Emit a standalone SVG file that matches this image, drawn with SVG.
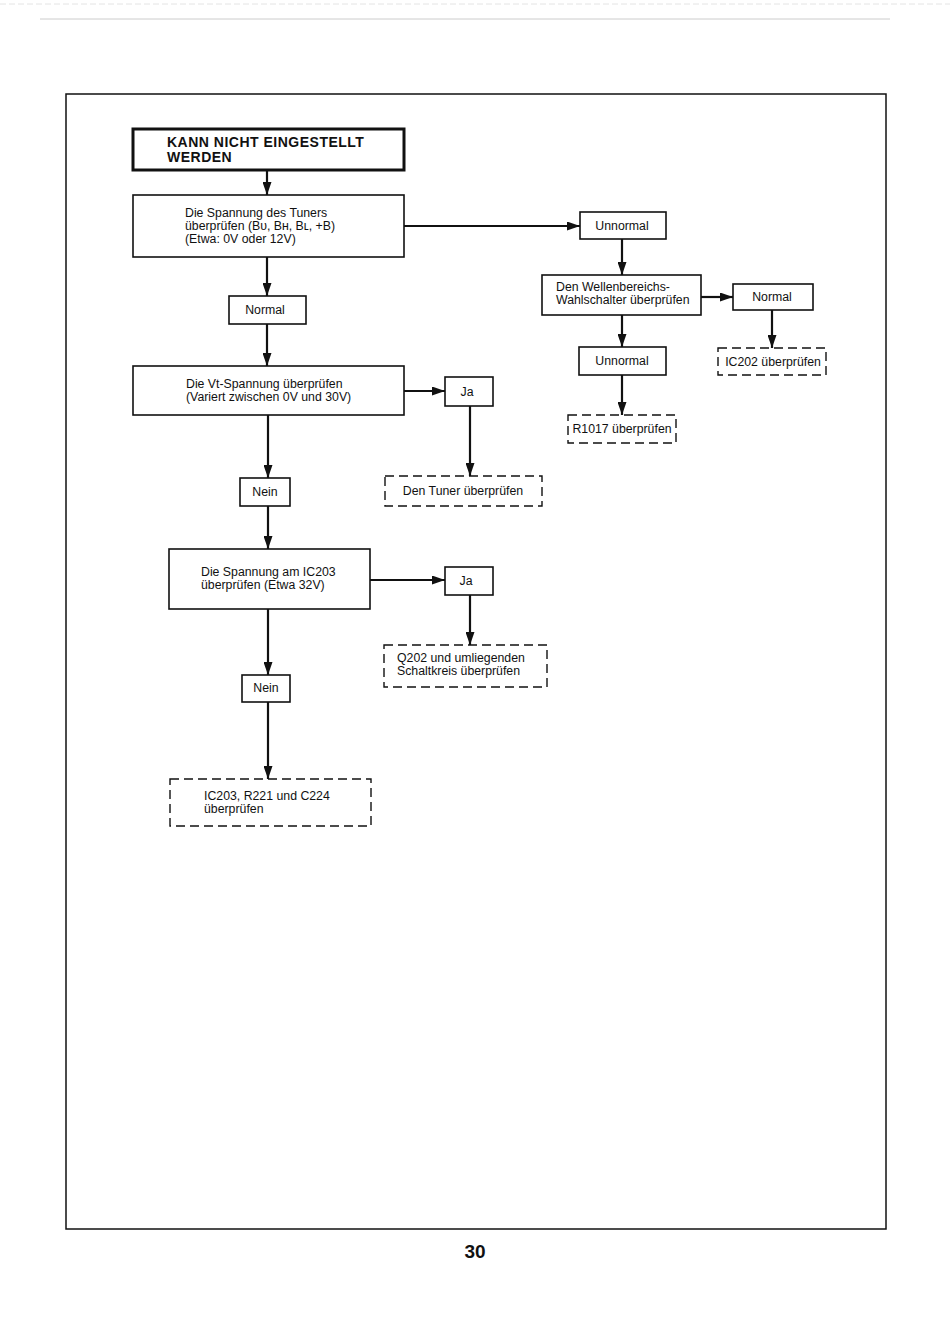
<svg xmlns="http://www.w3.org/2000/svg" width="950" height="1341" viewBox="0 0 950 1341">
<defs>
<marker id="ah" viewBox="0 0 13 9" refX="13" refY="4.5" markerWidth="13" markerHeight="9" markerUnits="userSpaceOnUse" orient="auto">
<path d="M0,0 L13,4.5 L0,9 Z" fill="#111"/>
</marker>
<style>
.box{fill:#fff;stroke:#111;stroke-width:1.6}
.dash{fill:#fff;stroke:#111;stroke-width:1.4;stroke-dasharray:9,5}
.t{font-family:"Liberation Sans",Arial,sans-serif;font-size:12.3px;fill:#111}
.c{text-anchor:middle}
.ttl{font-family:"Liberation Sans",Arial,sans-serif;font-size:14px;font-weight:bold;fill:#111;letter-spacing:0.5px}
.con line{stroke:#111;stroke-width:2.2;marker-end:url(#ah)}
</style>
</defs>
<rect width="950" height="1341" fill="#fff"/>
<line x1="40" y1="19" x2="890" y2="19" stroke="#ccc" stroke-width="1"/>
<line x1="0" y1="4" x2="950" y2="4" stroke="#e4e4e4" stroke-width="1" stroke-dasharray="6,3"/>
<rect x="66" y="94" width="820" height="1135" fill="none" stroke="#111" stroke-width="1.5"/>

<g id="title">
<rect x="133" y="129" width="271" height="41" fill="#fff" stroke="#111" stroke-width="3"/>
<text class="ttl" x="167" y="147">KANN NICHT EINGESTELLT</text>
<text class="ttl" x="167" y="162">WERDEN</text>
</g>
<g id="tuner">
<rect class="box" x="133" y="195" width="271" height="62"/>
<text class="t" x="185" y="217">Die Spannung des Tuners</text>
<text class="t" x="185" y="230">überprüfen (Bᴜ, Bʜ, Bʟ, +B)</text>
<text class="t" x="185" y="243">(Etwa: 0V oder 12V)</text>
</g>
<g id="unnormal1">
<rect class="box" x="580" y="212" width="86" height="27"/>
<text class="t c" x="622" y="230">Unnormal</text>
</g>
<g id="wellen">
<rect class="box" x="542" y="275" width="159" height="40"/>
<text class="t" x="556" y="291">Den Wellenbereichs-</text>
<text class="t" x="556" y="304">Wahlschalter überprüfen</text>
</g>
<g id="normal2">
<rect class="box" x="733" y="284" width="80" height="26"/>
<text class="t c" x="772" y="301">Normal</text>
</g>
<g id="ic202">
<rect class="dash" x="718" y="348" width="108" height="27"/>
<text class="t c" x="773" y="366">IC202 überprüfen</text>
</g>
<g id="unnormal2">
<rect class="box" x="579" y="347" width="87" height="28"/>
<text class="t c" x="622" y="365">Unnormal</text>
</g>
<g id="r1017">
<rect class="dash" x="568" y="415" width="108" height="28"/>
<text class="t c" x="622" y="433">R1017 überprüfen</text>
</g>
<g id="normal1">
<rect class="box" x="229" y="296" width="77" height="28"/>
<text class="t c" x="265" y="314">Normal</text>
</g>
<g id="vt">
<rect class="box" x="133" y="366" width="271" height="49"/>
<text class="t" x="186" y="388">Die Vt-Spannung überprüfen</text>
<text class="t" x="186" y="401">(Variert zwischen 0V und 30V)</text>
</g>
<g id="ja1">
<rect class="box" x="445" y="377" width="48" height="29"/>
<text class="t c" x="467" y="396">Ja</text>
</g>
<g id="tunercheck">
<rect class="dash" x="385" y="476" width="157" height="30"/>
<text class="t c" x="463" y="495">Den Tuner überprüfen</text>
</g>
<g id="nein1">
<rect class="box" x="240" y="478" width="50" height="28"/>
<text class="t c" x="265" y="496">Nein</text>
</g>
<g id="ic203v">
<rect class="box" x="169" y="549" width="201" height="60"/>
<text class="t" x="201" y="576">Die Spannung am IC203</text>
<text class="t" x="201" y="589">überprüfen (Etwa 32V)</text>
</g>
<g id="ja2">
<rect class="box" x="445" y="567" width="48" height="28"/>
<text class="t c" x="466" y="585">Ja</text>
</g>
<g id="q202">
<rect class="dash" x="384" y="645" width="163" height="42"/>
<text class="t" x="397" y="662">Q202 und umliegenden</text>
<text class="t" x="397" y="675">Schaltkreis überprüfen</text>
</g>
<g id="nein2">
<rect class="box" x="242" y="675" width="48" height="27"/>
<text class="t c" x="266" y="692">Nein</text>
</g>
<g id="ic203check">
<rect class="dash" x="170" y="779" width="201" height="47"/>
<text class="t" x="204" y="800">IC203, R221 und C224</text>
<text class="t" x="204" y="813">überprüfen</text>
</g>

<g id="connectors" class="con">
<line x1="267" y1="170" x2="267" y2="195"/>
<line x1="404" y1="226" x2="580" y2="226"/>
<line x1="622" y1="239" x2="622" y2="275"/>
<line x1="701" y1="297" x2="733" y2="297"/>
<line x1="772" y1="310" x2="772" y2="348"/>
<line x1="622" y1="315" x2="622" y2="347"/>
<line x1="622" y1="375" x2="622" y2="415"/>
<line x1="267" y1="257" x2="267" y2="296"/>
<line x1="267" y1="324" x2="267" y2="366"/>
<line x1="404" y1="391" x2="445" y2="391"/>
<line x1="470" y1="406" x2="470" y2="476"/>
<line x1="268" y1="415" x2="268" y2="478"/>
<line x1="268" y1="506" x2="268" y2="549"/>
<line x1="370" y1="580" x2="445" y2="580"/>
<line x1="470" y1="595" x2="470" y2="645"/>
<line x1="268" y1="609" x2="268" y2="675"/>
<line x1="268" y1="702" x2="268" y2="779"/>
</g>

<text x="475" y="1258" text-anchor="middle" font-family="Liberation Sans Narrow,Liberation Sans,Arial,sans-serif" font-size="19" font-weight="bold" fill="#111">30</text>
</svg>
